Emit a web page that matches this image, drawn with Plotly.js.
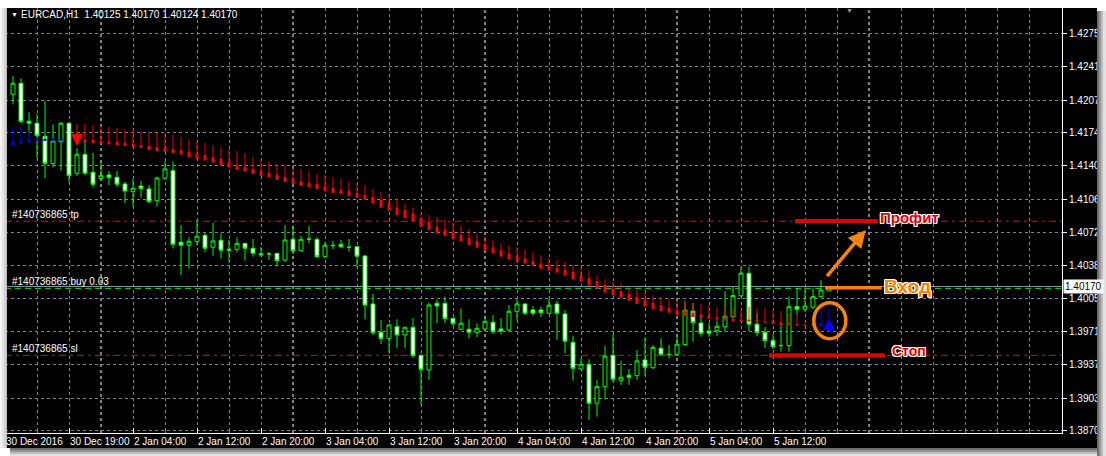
<!DOCTYPE html>
<html><head><meta charset="utf-8">
<script src="https://cdn.plot.ly/plotly-3.0.1.min.js"></script>
<style>html,body{margin:0;padding:0;background:#fff;overflow:hidden}#chart{width:1106px;height:456px}</style>
</head><body><div id="chart"></div>
<script>
// ---------------- DATA ----------------
const headerText = "EURCAD,H1\u00a0\u00a01.40125 1.40170 1.40124 1.40170";
// bar numbers (H1 bars, left to right)
const barNo = [1,2,3,4,5,6,7,8,9,10,11,12,13,14,15,16,17,18,19,20,21,22,23,24,25,26,27,28,29,30,31,32,33,34,35,36,37,38,39,40,41,42,43,44,45,46,47,48,49,50,51,52,53,54,55,56,57,58,59,60,61,62,63,64,65,66,67,68,69,70,71,72,73,74,75,76,77,78,79,80,81,82,83,84,85,86,87,88,89,90,91,92,93,94,95,96,97,98,99,100,101,102,103];
const openP = [1.42129,1.42241,1.41854,1.41833,1.41701,1.41422,1.41646,1.41833,1.41324,1.41517,1.41334,1.41269,1.41306,1.41283,1.41215,1.41136,1.41194,1.41164,1.41044,1.41273,1.41350,1.40621,1.40590,1.40627,1.40692,1.40570,1.40641,1.40549,1.40549,1.40610,1.40559,1.40504,1.40501,1.40508,1.40440,1.40651,1.40535,1.40654,1.40651,1.40474,1.40590,1.40600,1.40570,1.40576,1.40481,1.39992,1.39703,1.39638,1.39760,1.39676,1.39754,1.39469,1.39319,1.39999,1.39999,1.39846,1.39734,1.39734,1.39703,1.39737,1.39805,1.39737,1.39727,1.39913,1.39992,1.39931,1.39931,1.39897,1.39992,1.39890,1.39601,1.39329,1.39377,1.38980,1.39149,1.39469,1.39214,1.39265,1.39261,1.39421,1.39342,1.39540,1.39479,1.39477,1.39579,1.39920,1.39798,1.39716,1.39720,1.39760,1.39862,1.40075,1.40305,1.39786,1.39703,1.39618,1.39567,1.39567,1.39964,1.39938,1.39958,1.40066,1.40125];
const highP = [1.42315,1.42292,1.41945,1.41925,1.42061,1.41823,1.41847,1.41847,1.41579,1.41646,1.41531,1.41449,1.41347,1.41347,1.41238,1.41266,1.41245,1.41204,1.41289,1.41449,1.41442,1.40797,1.40671,1.40848,1.40712,1.40820,1.40712,1.40644,1.40671,1.40610,1.40654,1.40573,1.40519,1.40508,1.40797,1.40787,1.40685,1.40787,1.40671,1.40624,1.40634,1.40644,1.40654,1.40583,1.40491,1.40094,1.39829,1.39778,1.39836,1.39757,1.39849,1.39472,1.40005,1.40032,1.40066,1.39849,1.39948,1.39836,1.39795,1.39869,1.39880,1.39846,1.39981,1.40040,1.39999,1.39971,1.39964,1.40046,1.40025,1.39931,1.39666,1.39438,1.39428,1.39217,1.39564,1.39686,1.39414,1.39329,1.39523,1.39652,1.39574,1.39642,1.39574,1.39655,1.40025,1.40002,1.39866,1.39795,1.39823,1.40121,1.40165,1.40372,1.40372,1.39897,1.39760,1.39676,1.39788,1.40066,1.40152,1.40162,1.40152,1.40236,1.40170];
const lowP = [1.42027,1.41833,1.41748,1.41477,1.41273,1.41381,1.41350,1.41232,1.41296,1.41306,1.41177,1.41255,1.41204,1.41184,1.41018,1.40983,1.41075,1.41018,1.40983,1.41255,1.40559,1.40287,1.40351,1.40593,1.40519,1.40484,1.40453,1.40423,1.40519,1.40433,1.40474,1.40471,1.40440,1.40372,1.40420,1.40501,1.40522,1.40610,1.40461,1.40461,1.40549,1.40559,1.40525,1.40366,1.39836,1.39676,1.39584,1.39489,1.39540,1.39540,1.39441,1.38962,1.39217,1.39795,1.39795,1.39767,1.39727,1.39642,1.39652,1.39727,1.39686,1.39679,1.39706,1.39822,1.39880,1.39869,1.39862,1.39890,1.39625,1.39489,1.39210,1.39319,1.38809,1.38843,1.39020,1.39197,1.39166,1.39166,1.39217,1.39258,1.39329,1.39462,1.39436,1.39462,1.39564,1.39607,1.39658,1.39655,1.39662,1.39711,1.39849,1.40063,1.39716,1.39662,1.39540,1.39533,1.39505,1.39505,1.39880,1.39910,1.39941,1.40063,1.40124];
const closeP = [1.42241,1.41850,1.41833,1.41707,1.41422,1.41653,1.41833,1.41299,1.41517,1.41324,1.41212,1.41303,1.41279,1.41212,1.41143,1.41171,1.41167,1.41034,1.41276,1.41368,1.40600,1.40590,1.40631,1.40682,1.40559,1.40634,1.40539,1.40539,1.40610,1.40559,1.40508,1.40494,1.40504,1.40433,1.40644,1.40535,1.40651,1.40651,1.40474,1.40590,1.40586,1.40576,1.40569,1.40478,1.39981,1.39699,1.39638,1.39778,1.39676,1.39754,1.39465,1.39326,1.39981,1.39971,1.39842,1.39791,1.39795,1.39703,1.39744,1.39815,1.39709,1.39716,1.39917,1.39992,1.39897,1.39897,1.39903,1.39978,1.39897,1.39612,1.39336,1.39377,1.38980,1.39149,1.39459,1.39224,1.39245,1.39245,1.39411,1.39347,1.39550,1.39477,1.39477,1.39582,1.39928,1.39803,1.39693,1.39693,1.39764,1.39867,1.40078,1.40305,1.39786,1.39701,1.39618,1.39556,1.39569,1.39964,1.39938,1.39971,1.40066,1.40134,1.40170];

// trend indicator (line top, body top, body bottom) and its state
const indBar = [1,2,3,4,5,6,7,9,10,11,12,13,14,15,16,17,18,19,20,21,22,23,24,25,26,27,28,29,30,31,32,33,34,35,36,37,38,39,40,41,42,43,44,45,46,47,48,49,50,51,52,53,54,55,56,57,58,59,60,61,62,63,64,65,66,67,68,69,70,71,72,73,74,75,76,77,78,79,80,81,82,83,84,85,86,87,88,89,90,91,92,93,94,95,96,97,98,99,100,101,102,103];
const indTop = [1.41799,1.41809,1.41748,1.41694,1.41694,1.41684,1.41684,1.41826,1.41826,1.41816,1.41806,1.41796,1.41785,1.41775,1.41765,1.41755,1.41735,1.41735,1.41735,1.41714,1.41694,1.41663,1.41653,1.41633,1.41612,1.41592,1.41571,1.41551,1.41531,1.41490,1.41470,1.41442,1.41419,1.41398,1.41378,1.41368,1.41347,1.41317,1.41306,1.41286,1.41266,1.41245,1.41225,1.41204,1.41164,1.41136,1.41103,1.41059,1.41011,1.40977,1.40932,1.40899,1.40875,1.40848,1.40827,1.40787,1.40756,1.40705,1.40678,1.40644,1.40610,1.40593,1.40570,1.40542,1.40515,1.40491,1.40457,1.40440,1.40420,1.40389,1.40369,1.40328,1.40277,1.40243,1.40219,1.40196,1.40152,1.40134,1.40117,1.40083,1.40060,1.40040,1.40025,1.40012,1.40002,1.39989,1.39978,1.39958,1.39951,1.39948,1.39938,1.39964,1.39948,1.39948,1.39931,1.39920,1.39900,1.39880,1.39788,1.39788,1.39931,1.39951];
const indUpper = [1.41643,1.41656,1.41668,1.41673,1.41673,1.41673,1.41673,1.41684,1.41670,1.41663,1.41658,1.41648,1.41643,1.41633,1.41622,1.41612,1.41602,1.41592,1.41582,1.41571,1.41561,1.41546,1.41526,1.41510,1.41490,1.41470,1.41442,1.41411,1.41391,1.41368,1.41347,1.41330,1.41306,1.41286,1.41266,1.41245,1.41228,1.41215,1.41194,1.41174,1.41154,1.41143,1.41126,1.41103,1.41082,1.41052,1.41024,1.40977,1.40950,1.40916,1.40865,1.40830,1.40780,1.40751,1.40729,1.40695,1.40664,1.40634,1.40603,1.40570,1.40542,1.40508,1.40481,1.40457,1.40430,1.40406,1.40389,1.40362,1.40338,1.40318,1.40287,1.40254,1.40226,1.40185,1.40152,1.40124,1.40094,1.40066,1.40032,1.40005,1.39981,1.39954,1.39931,1.39920,1.39905,1.39885,1.39869,1.39859,1.39849,1.39844,1.39834,1.39834,1.39829,1.39818,1.39818,1.39805,1.39798,1.39785,1.39783,1.39783,1.39798,1.39788];
const indLower = [1.41607,1.41622,1.41638,1.41648,1.41653,1.41653,1.41653,1.41643,1.41640,1.41633,1.41627,1.41617,1.41612,1.41602,1.41592,1.41582,1.41561,1.41551,1.41541,1.41531,1.41515,1.41490,1.41470,1.41454,1.41432,1.41401,1.41381,1.41357,1.41340,1.41317,1.41296,1.41279,1.41255,1.41235,1.41215,1.41194,1.41181,1.41164,1.41143,1.41123,1.41113,1.41092,1.41075,1.41052,1.41016,1.40973,1.40943,1.40899,1.40865,1.40830,1.40780,1.40746,1.40712,1.40685,1.40654,1.40627,1.40593,1.40565,1.40535,1.40508,1.40474,1.40447,1.40423,1.40406,1.40386,1.40351,1.40331,1.40311,1.40280,1.40246,1.40219,1.40178,1.40148,1.40107,1.40083,1.40056,1.40025,1.39992,1.39964,1.39941,1.39920,1.39903,1.39880,1.39869,1.39859,1.39849,1.39842,1.39832,1.39823,1.39818,1.39813,1.39813,1.39808,1.39801,1.39788,1.39778,1.39778,1.39770,1.39767,1.39767,1.39767,1.39757];
const indState = ["up","up","up","up","up","up","up","down","down","down","down","down","down","down","down","down","down","down","down","down","down","down","down","down","down","down","down","down","down","down","down","down","down","down","down","down","down","down","down","down","down","down","down","down","down","down","down","down","down","down","down","down","down","down","down","down","down","down","down","down","down","down","down","down","down","down","down","down","down","down","down","down","down","down","down","down","down","down","down","down","down","down","down","down","down","down","down","down","down","down","down","down","down","down","down","down","down","down","down","down","up","up"];
// signal arrows: [bar, tip price]
const sellSignal = {bar: 9, price: 1.41602};
const buySignal = {bar: 103, price: 1.39849};

// axis ticks
const timeTickBars = [0,8,16,24,32,40,48,56,64,72,80,88,96];
const timeTickLabels = ["30 Dec 2016","30 Dec 19:00","2 Jan 04:00","2 Jan 12:00","2 Jan 20:00","3 Jan 04:00","3 Jan 12:00","3 Jan 20:00","4 Jan 04:00","4 Jan 12:00","4 Jan 20:00","5 Jan 04:00","5 Jan 12:00"];
const daySeparatorBars = [12,36,60,84,108];
const priceTickLabels = ["1.38700","1.39030","1.39370","1.39710","1.40050","1.40380","1.40720","1.41060","1.41400","1.41740","1.42070","1.42410","1.42750"];

// order levels
const orderTicket = "#140736865";
const tpPrice = 1.40835, buyPrice = 1.40151, slPrice = 1.39468, bidPrice = 1.40170;
// hand-drawn objects (bar span, price)
const profitMark = {from: 98.75, to: 109.1, price: 1.40838, label: "Профит"};
const entryMark  = {from: 102.5, to: 109.6, price: 1.40158, label: "Вход"};
const stopMark   = {from: 95.5, to: 110.0, price: 1.39469, label: "Стоп"};
const upArrow    = {fromBar: 102.6, fromPrice: 1.40260, toBar: 107.6, toPrice: 1.40746};
const circleMark = {bar0: 101.1, bar1: 105.1, price0: 1.39638, price1: 1.40005};

// ---------------- LAYOUT HELPERS ----------------
const W = 1106, Hh = 456;
const M = {l:5, r:44, t:8, b:23};
const PW = W - M.l - M.r, PH = Hh - M.t - M.b;
const px = x => (x - M.l) / PW;
const py = y => (M.t + PH - y) / PH;
const GRID = '#778899';
const FONT = 'Liberation Sans, Arial, sans-serif';
const LIME = '#00ff00';

// ---------------- TRACES ----------------
const traces = [];
function indTrace(state, color) {
  const xs = [], up = [], lo = [], top = [];
  indBar.forEach((b, i) => { if (indState[i] === state) { xs.push(b); up.push(indUpper[i]); lo.push(indLower[i]); top.push(indTop[i]); } });
  traces.push({type:'scatter', mode:'markers', x: xs, y: up, marker:{size:1, opacity:0, color}, hoverinfo:'skip', showlegend:false,
    error_y:{type:'data', symmetric:false, array: top.map((t,i)=>t-up[i]), arrayminus: up.map(()=>0), color, thickness:1, width:0}});
  traces.push({type:'scatter', mode:'markers', x: xs, y: lo, marker:{size:1, opacity:0, color}, hoverinfo:'skip', showlegend:false,
    error_y:{type:'data', symmetric:false, array: up.map((u,i)=>u-lo[i]), arrayminus: lo.map(()=>0), color, thickness:3, width:0}});
}
indTrace('up', '#0000ff');
indTrace('down', '#ff0000');

traces.push({type:'candlestick', x: barNo, open: openP, high: highP, low: lowP, close: closeP,
  increasing:{line:{color:LIME, width:1}, fillcolor:'#000000'},
  decreasing:{line:{color:LIME, width:1}, fillcolor:'#ffffff'},
  whiskerwidth:0, hoverinfo:'skip', showlegend:false});

// ---------------- GRID VALUES ----------------
const minorVals = [];
for (let k = 0; k <= 132; k += 4) {
  if (timeTickBars.indexOf(k) < 0 && daySeparatorBars.indexOf(k) < 0) minorVals.push(k);
}

// ---------------- SHAPES ----------------
const shapes = [];
shapes.push({type:'rect', xref:'paper', yref:'paper', x0:px(7), x1:px(1097), y0:py(448), y1:py(8), fillcolor:'#000', line:{width:0}, layer:'below'});
daySeparatorBars.forEach(b => shapes.push({type:'line', xref:'x', yref:'paper', x0:b, x1:b, y0:0, y1:1, line:{color:'#ffffff', width:1, dash:'3px,3px'}, layer:'between'}));
shapes.push({type:'line', xref:'paper', yref:'y', x0:0, x1:1, y0:tpPrice, y1:tpPrice, line:{color:'#ff0000', width:1, dash:'7px,4px,3px,4px'}, layer:'between'});
shapes.push({type:'line', xref:'paper', yref:'y', x0:0, x1:1, y0:slPrice, y1:slPrice, line:{color:'#ff0000', width:1, dash:'7px,4px,3px,4px'}, layer:'between'});
shapes.push({type:'line', xref:'paper', yref:'y', x0:0, x1:1, y0:bidPrice, y1:bidPrice, line:{color:'#8899aa', width:1}, layer:'between'});
shapes.push({type:'line', xref:'paper', yref:'y', x0:0, x1:1, y0:buyPrice, y1:buyPrice, line:{color:'#1ee01e', width:1, dash:'6px,4px'}, layer:'between'});
shapes.push({type:'line', xref:'x', yref:'y', x0:profitMark.from, x1:profitMark.to, y0:profitMark.price, y1:profitMark.price, line:{color:'#e00000', width:4}, layer:'above'});
shapes.push({type:'line', xref:'x', yref:'y', x0:stopMark.from, x1:stopMark.to, y0:stopMark.price, y1:stopMark.price, line:{color:'#e00000', width:4}, layer:'above'});
shapes.push({type:'line', xref:'x', yref:'y', x0:entryMark.from, x1:entryMark.to, y0:entryMark.price, y1:entryMark.price, line:{color:'#ff8000', width:3.5}, layer:'above'});
shapes.push({type:'circle', xref:'x', yref:'y', x0:circleMark.bar0, x1:circleMark.bar1, y0:circleMark.price0, y1:circleMark.price1, line:{color:'#f7820f', width:3.5}, layer:'above'});
[[0,2,'#f2f2f2'],[2,4,'#e4e4e4'],[4,6,'#d2d2d2'],[6,7,'#bdbdbd']].forEach(s =>
  shapes.push({type:'rect', xref:'paper', yref:'paper', x0:px(s[0]), x1:px(s[1]), y0:py(448), y1:py(8), fillcolor:s[2], line:{width:0}, layer:'above'}));
[[1097,1099,'#6f6f6f'],[1099,1101,'#979797'],[1101,1103,'#bdbdbd'],[1103,1106,'#e2e2e2']].forEach(s =>
  shapes.push({type:'rect', xref:'paper', yref:'paper', x0:px(s[0]), x1:px(s[1]), y0:py(456), y1:py(11), fillcolor:s[2], line:{width:0}, layer:'above'}));
[[448,450,'#6f6f6f'],[450,452,'#979797'],[452,454,'#bdbdbd'],[454,456,'#e2e2e2']].forEach(s =>
  shapes.push({type:'rect', xref:'paper', yref:'paper', x0:px(10), x1:px(1097), y0:py(s[1]), y1:py(s[0]), fillcolor:s[2], line:{width:0}, layer:'above'}));

// ---------------- ANNOTATIONS ----------------
const outline = (c) => `-1px -1px 0 ${c}, 1px -1px 0 ${c}, -1px 1px 0 ${c}, 1px 1px 0 ${c}, 0 1px 0 ${c}, 0 -1px 0 ${c}, 1px 0 0 ${c}, -1px 0 0 ${c}`;
const ann = [];
ann.push({xref:'paper', yref:'paper', x:px(9), y:py(14.5), xanchor:'left', yanchor:'middle', showarrow:false, text:'▼', font:{family:FONT, size:7, color:'#fff'}});
ann.push({xref:'paper', yref:'paper', x:px(19), y:py(14.5), xanchor:'left', yanchor:'middle', showarrow:false, text:headerText, font:{family:FONT, size:10, color:'#fff'}});
ann.push({xref:'paper', yref:'paper', x:px(849), y:py(10), xanchor:'center', yanchor:'middle', showarrow:false, text:'▼', font:{family:FONT, size:7, color:'#9a9a9a'}});
// time axis labels (left-aligned at their tick, as in the terminal)
timeTickBars.forEach((b, i) => ann.push({xref:'x', yref:'paper', x:b, y:py(441.5), xanchor:'left', yanchor:'middle', xshift:-1, showarrow:false, text:timeTickLabels[i], font:{family:FONT, size:10, color:'#fff'}}));
[[tpPrice,' tp'],[buyPrice,' buy 0.03'],[slPrice,' sl']].forEach(o =>
  ann.push({xref:'paper', yref:'y', x:px(10), y:o[0], xanchor:'left', yanchor:'bottom', yshift:-1, showarrow:false, text:orderTicket + o[1], font:{family:FONT, size:10, color:'#fff'}}));
ann.push({xref:'paper', yref:'y', x:px(1063), y:bidPrice, xanchor:'left', yanchor:'middle', showarrow:false, text:bidPrice.toFixed(5), bgcolor:'#ffffff', borderpad:1, font:{family:FONT, size:10, color:'#000'}});
ann.push({xref:'x', yref:'y', x:sellSignal.bar, y:sellSignal.price, ax:0, ay:-14, showarrow:true, arrowhead:2, arrowsize:0.7, arrowwidth:3.5, arrowcolor:'#ff0000', text:''});
ann.push({xref:'x', yref:'y', x:buySignal.bar, y:buySignal.price, ax:0, ay:15, showarrow:true, arrowhead:2, arrowsize:0.7, arrowwidth:3.5, arrowcolor:'#0000ff', text:''});
ann.push({xref:'x', yref:'y', axref:'x', ayref:'y', x:upArrow.toBar, y:upArrow.toPrice, ax:upArrow.fromBar, ay:upArrow.fromPrice, showarrow:true, arrowhead:2, arrowsize:1, arrowwidth:3.5, arrowcolor:'#f7820f', text:''});
ann.push({xref:'x', yref:'y', x:profitMark.to, y:profitMark.price, xanchor:'left', yanchor:'middle', yshift:3, showarrow:false, text:'<b>'+profitMark.label+'</b>', font:{family:FONT, size:15, color:'#e00000', shadow:outline('#ffffff')}});
ann.push({xref:'x', yref:'y', x:entryMark.to, y:entryMark.price, xanchor:'left', yanchor:'middle', yshift:1, showarrow:false, text:'<b>'+entryMark.label+'</b>', font:{family:FONT, size:19, color:'#ff8000', shadow:outline('#ffffff')}});
ann.push({xref:'x', yref:'y', x:stopMark.to + 0.6, y:stopMark.price, xanchor:'left', yanchor:'middle', yshift:4, showarrow:false, text:'<b>'+stopMark.label+'</b>', font:{family:FONT, size:14, color:'#e00000', shadow:outline('#ffffff')}});

// ---------------- LAYOUT ----------------
const layout = {
  width: W, height: Hh, margin: M,
  paper_bgcolor: '#ffffff', plot_bgcolor: '#000000',
  showlegend: false, dragmode: false, hovermode: false,
  xaxis: {
    range: [0, PW / 8], fixedrange: true, rangeslider: {visible: false},
    tickmode: 'array', tickvals: timeTickBars, ticktext: timeTickLabels, showticklabels: false,
    showgrid: true, gridcolor: GRID, griddash: '3px,3px', gridwidth: 1,
    zeroline: false, showline: true, linecolor: '#ffffff', linewidth: 1,
    ticks: 'inside', ticklen: 5, tickcolor: '#ffffff',
    minor: {tickmode: 'array', tickvals: minorVals, showgrid: true, gridcolor: GRID, griddash: '3px,3px', gridwidth: 1, ticks: 'inside', ticklen: 3, tickcolor: GRID}
  },
  yaxis: {
    side: 'right', range: [1.386766, 1.43008], fixedrange: true,
    tickmode: 'array', tickvals: priceTickLabels.map(Number), ticktext: priceTickLabels,
    showgrid: true, gridcolor: GRID, griddash: '3px,3px', gridwidth: 1,
    zeroline: false, showline: true, linecolor: '#ffffff', linewidth: 1,
    ticks: 'outside', ticklen: 4, tickcolor: '#ffffff',
    tickfont: {family: FONT, size: 10, color: '#ffffff'}
  },
  shapes: shapes, annotations: ann
};
Plotly.newPlot('chart', traces, layout, {staticPlot: true, displayModeBar: false});
</script></body></html>
